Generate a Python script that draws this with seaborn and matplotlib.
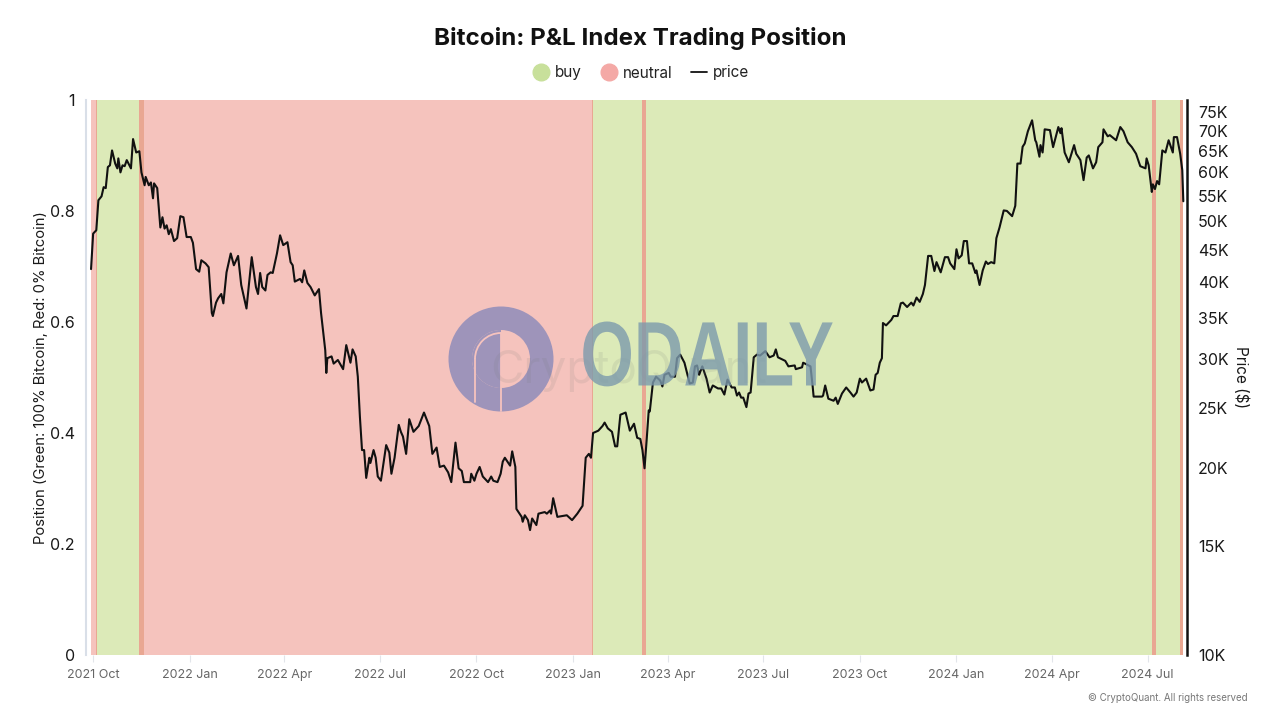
import numpy as np
import pandas as pd
import matplotlib
matplotlib.use('Agg')
import matplotlib.pyplot as plt
import seaborn as sns
from matplotlib.lines import Line2D
from matplotlib.patches import Arc, Wedge
from matplotlib.patheffects import AbstractPathEffect
from matplotlib.ticker import NullLocator
from matplotlib.transforms import Affine2D

START_DATE = pd.Timestamp('2021-09-29')

# days since START_DATE, price in $K
price_days = [
    0, 2, 5, 7, 10, 12, 14, 16, 18, 20, 23, 25, 26, 28, 30, 32, 34, 38, 40, 43, 46, 48, 51, 52, 55, 57, 59, 60, 63,
    66, 68, 70, 72, 74, 76, 79, 82, 85, 88, 91, 95, 97, 100, 103, 105, 109, 112, 115, 116, 119, 121, 124, 126, 129,
    133, 136, 140, 143, 148, 150, 153, 157, 159, 161, 163, 166, 168, 171, 173, 177, 180, 183, 187, 190, 192, 194,
    199, 201, 203, 206, 209, 213, 217, 219, 223, 224, 225, 229, 231, 235, 240, 243, 247, 249, 252, 254, 256, 258,
    260, 262, 265, 266, 269, 271, 273, 276, 281, 284, 286, 289, 293, 295, 297, 300, 303, 307, 312, 317, 322, 325,
    329, 332, 336, 340, 343, 347, 350, 353, 355, 361, 362, 365, 367, 370, 373, 378, 381, 383, 387, 390, 392, 394,
    399, 401, 404, 405, 410, 411, 413, 416, 418, 420, 424, 426, 432, 434, 437, 438, 440, 444, 453, 458, 463, 468,
    471, 474, 476, 478, 483, 487, 489, 492, 496, 499, 501, 504, 509, 513, 517, 520, 523, 525, 527, 529, 531, 532,
    535, 538, 542, 544, 546, 550, 552, 556, 558, 561, 565, 570, 573, 575, 577, 579, 582, 586, 589, 592, 597, 600,
    603, 606, 610, 613, 615, 617, 619, 621, 624, 626, 628, 631, 634, 637, 642, 646, 650, 652, 654, 661, 664, 670,
    671, 677, 678, 685, 687, 688, 691, 696, 697, 699, 702, 707, 709, 711, 715, 719, 723, 726, 729, 732, 734, 738,
    742, 745, 747, 749, 751, 753, 754, 757, 762, 764, 768, 771, 773, 777, 781, 783, 786, 789, 792, 794, 797, 800,
    803, 805, 809, 813, 816, 818, 822, 824, 826, 829, 831, 834, 836, 839, 842, 843, 846, 849, 852, 854, 857, 860,
    862, 865, 869, 872, 877, 880, 882, 885, 887, 889, 892, 896, 899, 900, 903, 904, 906, 908, 913, 916, 921, 923,
    924, 927, 931, 936, 938, 941, 942, 945, 948, 950, 954, 957, 959, 963, 964, 968, 970, 976, 980, 983, 987, 991,
    995, 999, 1004, 1005, 1007, 1010, 1011, 1013, 1015, 1017, 1020, 1023, 1026, 1030, 1031, 1034, 1037, 1039, 1040,
]
price_k = [
    41.9, 47.8, 48.4, 54.1, 54.9, 56.8, 56.6, 61.2, 61.6, 65.1, 62, 60.9, 63.2, 60, 61.6, 61.4, 62.8, 60.9, 67.9,
    64.6, 64.9, 60, 57.2, 59, 57.2, 57.8, 54.5, 57.6, 56.6,
    48.9, 50.8, 48.7, 49.3, 47.7, 48.6, 46.5, 47, 51, 50.8, 47.2, 47.2, 46.2, 41.9, 41.5, 43.3, 42.8, 42.2, 35.6,
    35.2, 37, 37.6, 38.2, 36.9, 41.4,
    44.4, 42.5, 44, 39.5, 36.2, 39.1, 43.8, 39.2, 38.2, 41.3, 39.2, 38.7, 41, 41.4, 41.3, 44.4, 47.5, 45.8, 46.3,
    43, 42.5, 40,
    40.4, 39.9, 41.7, 39.8, 39.2, 38, 38.9, 35.6, 31, 28.5, 30.1, 30.3, 29.5, 29.9, 28.9, 31.6, 29.6, 31.1, 30.3,
    28.1, 24.2, 21.4,
    21.4, 19.3, 20.8, 20.4, 21.4, 20.8, 19.4, 19.1, 21.8, 21.2, 19.6, 20.8, 23.5, 22.9, 22.5, 21.1, 24, 22.9, 23.4,
    24.6, 23.4, 21.1,
    21.6, 20.1, 20.2, 19.7, 19, 22, 20, 19.8, 19, 19, 19.6, 19.1, 19.6, 20.1, 19.4, 19, 19.4, 19.1, 19, 19.6, 20.5,
    20.8,
    20.2, 21.3, 20.1, 17.2, 16.7, 16.4, 16.8, 16.5, 15.9, 16.6, 16.2, 16.9, 17, 16.9, 17.1, 16.9, 17.9, 16.7, 16.8,
    16.5, 16.9, 17.4,
    20.8, 21.1, 20.8, 22.8, 23, 23.4, 23.7, 23.2, 22.9, 21.7, 21.7, 24.4, 24.6, 23, 23.6, 22.4, 22.3, 21.4, 20, 22.2,
    24.8, 24.7,
    27.5, 28.1, 27.7, 27.1, 28.3, 28.5, 28.1, 28.1, 30.1, 30.5, 29.6, 27.4, 27.5, 29.2, 29.3, 28.3, 29.2, 27.9, 26.5,
    27.2, 26.9, 26.9,
    26.3, 27.8, 27, 27, 26.2, 26.5, 26, 26, 25.1, 26.4, 26.5, 30.2, 30.5, 30.4, 30.9, 30.2, 30.4, 31.1, 30.2, 29.8,
    29.2, 29.3,
    28.9, 29.1, 29.6, 29.2, 27.2, 26.1, 26.1, 26.1, 26.2, 27.2, 25.9, 25.7, 26, 25.4, 26.4, 27, 26.5, 26.1, 26.5,
    27.9, 27.5, 27.9,
    26.7, 26.8, 28.3, 28.5, 29.6, 30.1, 34.3, 34, 34.7, 35.2, 35.2, 36.9, 37, 36.4, 37, 36.6, 37.7, 37.1, 38.2, 39.5,
    44, 44,
    41.6, 43, 41.4, 43.8, 43.8, 42.8, 41.9, 45.1, 43.6, 44.1, 46.5, 46.5, 42.8, 42.8, 41.3, 41.7, 39.5, 41.7, 43.1,
    42.7, 43, 42.8,
    47, 48.9, 52.1, 52, 51, 53, 62, 62, 66, 66.8, 69.9, 72.8, 67.6, 67.1, 63.6, 66.4, 64.6, 70.4, 70.2, 65.9, 71,
    69.4,
    70.7, 64.6, 62.3, 66.4, 64.3, 63.2, 62.8, 58.3, 63.4, 63.9, 60.9, 62.3, 65.9, 67.1, 70.4, 68.6, 68.9, 67.6, 71,
    69.9, 67.1, 65.9,
    64.3, 61.4, 60.9, 63.2, 61.6, 55.8, 57.4, 56.4, 58.1, 57.4, 65.1, 64.6, 67.6, 64.6, 68.4, 68.4, 64.3, 60.5, 53.9,
]

# position spans in days, the edge spans are where buy and neutral overlap
buy_start = [4.5, 476.7]
buy_end = [50, 1040]
neutral_start = [0, 46, 524.2, 1010.5, 1036.8]
neutral_end = [5.5, 478.2, 528.4, 1014, 1040]
edge_start = [4.5, 46, 476.7, 524.2, 1010.5, 1036.8]
edge_end = [5.5, 50, 478.2, 528.4, 1014, 1040]

position_ticks = [0, 0.2, 0.4, 0.6, 0.8, 1]
position_labels = ['0', '0.2', '0.4', '0.6', '0.8', '1']
price_ticks = [10, 15, 20, 25, 30, 35, 40, 45, 50, 55, 60, 65, 70, 75]
price_labels = ['10K', '15K', '20K', '25K', '30K', '35K', '40K', '45K', '50K', '55K', '60K', '65K', '70K', '75K']
month_ticks = ['2021-10-01', '2022-01-01', '2022-04-01', '2022-07-01', '2022-10-01', '2023-01-01',
               '2023-04-01', '2023-07-01', '2023-10-01', '2024-01-01', '2024-04-01', '2024-07-01']
month_labels = ['2021 Oct', '2022 Jan', '2022 Apr', '2022 Jul', '2022 Oct', '2023 Jan',
                '2023 Apr', '2023 Jul', '2023 Oct', '2024 Jan', '2024 Apr', '2024 Jul']


def to_date(days):
    return START_DATE + pd.to_timedelta(days, unit='D')


class Squeeze(AbstractPathEffect):
    # narrows a text horizontally around cx (display pixels), no condensed bold font installed
    def __init__(self, cx, sx):
        super().__init__()
        self.squeeze = Affine2D().translate(-cx, 0).scale(sx, 1).translate(cx, 0)

    def draw_path(self, renderer, gc, tpath, affine, rgbFace=None):
        renderer.draw_path(gc, tpath, affine + self.squeeze, rgbFace)


sns.set_theme(style='white')
plt.rcParams['font.family'] = ['Inter', 'DejaVu Sans']

fig = plt.figure(figsize=(12.8, 7.2), dpi=100)
ax = fig.add_axes([86 / 1280, 65 / 720, 1101 / 1280, 555 / 720])

for s, e in zip(buy_start, buy_end):
    ax.axvspan(to_date(s), to_date(e), color='#BBD773', alpha=0.5, lw=0)
for s, e in zip(neutral_start, neutral_end):
    ax.axvspan(to_date(s), to_date(e), color='#E8695C', alpha=0.4, lw=0)
for s, e in zip(edge_start, edge_end):
    ax.axvspan(to_date(s), to_date(e), color='#E9A792', lw=0)

ax.set_ylim(0, 1)
ax.set_xlim(to_date(-4.8), to_date(1043.5))
ax.set_yticks(position_ticks)
ax.set_yticklabels(position_labels, fontsize=11.5, color='#1a1a1a')
ax.tick_params(axis='y', length=0, pad=8)
ax.set_xticks(pd.to_datetime(month_ticks))
ax.set_xticklabels(month_labels, fontsize=9, color='#666666')
ax.tick_params(axis='x', length=5, width=0.8, color='#e2e5ea', pad=5, bottom=True)
ax.set_ylabel('Position (Green: 100% Bitcoin, Red: 0% Bitcoin)', fontsize=10.7, color='#1a1a1a', labelpad=1)
for side in ['top', 'right', 'bottom']:
    ax.spines[side].set_visible(False)
ax.spines['left'].set_color('#d9dfe8')
ax.spines['left'].set_linewidth(1.5)

ax2 = ax.twinx()
sns.lineplot(x=to_date(np.array(price_days)), y=price_k, ax=ax2, color='#111111', lw=1.5,
             errorbar=None, estimator=None, legend=False)
ax2.set_yscale('log')
ax2.set_ylim(10, 78.5)
ax2.set_xlim(to_date(-4.8), to_date(1043.5))
ax2.set_yticks(price_ticks)
ax2.set_yticklabels(price_labels, fontsize=11.5, color='#1a1a1a')
ax2.yaxis.set_minor_locator(NullLocator())
ax2.tick_params(axis='y', length=0, pad=8)
ax2.set_ylabel('Price ($)', fontsize=11, color='#1a1a1a', rotation=270, labelpad=14)
ax2.set_xlabel('')
for side in ['top', 'left', 'bottom']:
    ax2.spines[side].set_visible(False)
ax2.spines['right'].set_color('#111111')
ax2.spines['right'].set_linewidth(1.8)

fig.text(640, 720 - 39, 'Bitcoin: P&L Index Trading Position', transform=None, ha='center', va='center',
         fontsize=17.4, fontweight='bold', color='#111111')

handles = [
    Line2D([0], [0], ls='', marker='o', ms=12, color='#C8E09B', label='buy'),
    Line2D([0], [0], ls='', marker='o', ms=12, color='#F4A9A6', label='neutral'),
    Line2D([0], [0], color='#111111', lw=1.3, label='price'),
]
fig.legend(handles=handles, loc='center', bbox_to_anchor=(641 / 1280, 1 - 73 / 720), ncol=3, frameon=False,
           fontsize=11, handlelength=1.1, handletextpad=0.35, columnspacing=1.2, labelcolor='#222222')

fig.text(1248, 720 - 698, '© CryptoQuant. All rights reserved', transform=None, ha='right', va='center',
         fontsize=7, color='#777777')

# watermark layer, pixel coordinates
wm = fig.add_axes([0, 0, 1, 1], facecolor='none')
wm.set_xlim(0, 1280)
wm.set_ylim(720, 0)
wm.axis('off')
wm.text(490, 371, 'CryptoQuant', fontsize=33, color='#777777', alpha=0.13, va='center', ha='left')
PURPLE = '#8989BA'
wm.add_patch(Wedge((501, 359), 52.5, 0, 360, width=23.5, color=PURPLE, alpha=0.8, lw=0))
wm.add_patch(Wedge((501, 359), 29, 90, 270, color=PURPLE, alpha=0.8, lw=0))
wm.add_patch(Arc((501, 359), 52, 52, theta1=180, theta2=270, color='#F6C3BE', lw=1.3))
wm.plot([475, 475], [359, 402], color='#F6C3BE', lw=1.3)
wm.plot([501, 501], [333, 411], color='#F6C3BE', lw=1.3)
wm.text(707, 361.5, 'ODAILY', family=['Liberation Sans', 'DejaVu Sans'], fontweight='bold', fontsize=66,
        color='#7C9AAC', alpha=0.8, ha='center', va='center', path_effects=[Squeeze(707, 0.75)])

fig.savefig('out.png', dpi=100)
